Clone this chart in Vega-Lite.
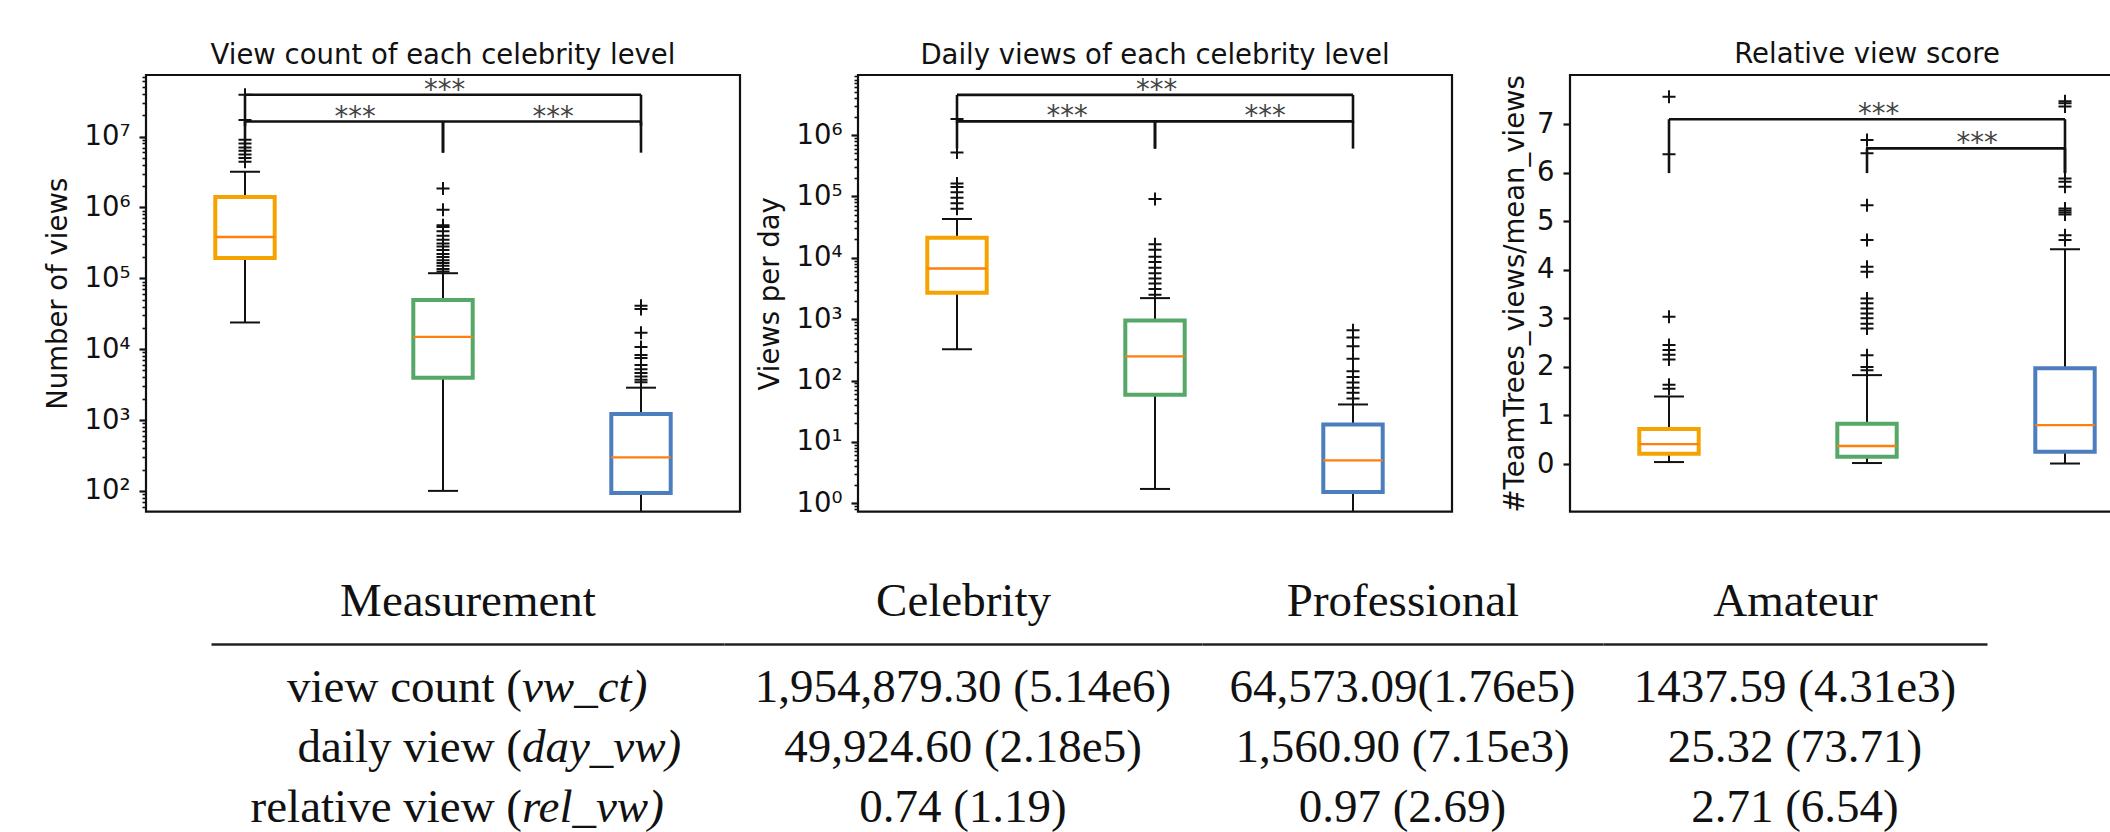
{
  "$schema": "https://vega.github.io/schema/vega-lite/v6.json",
  "background": "white",
  "padding": {"left": 42, "top": 39, "right": 0, "bottom": 0},
  "config": {
    "font": "DejaVu Sans",
    "view": {"stroke": "#111", "strokeWidth": 2.2},
    "axis": {"labelFont": "DejaVu Sans", "titleFont": "DejaVu Sans", "labelColor": "#111", "titleColor": "#111", "tickColor": "#111", "grid": false}
  },
  "datasets": {
    "box": [
      {"metric": "vc", "level": "Celebrity", "lo": 23800, "q1": 193000, "med": 382000, "q3": 1410000, "hi": 3190000},
      {"metric": "vc", "level": "Professional", "lo": 100, "q1": 3950, "med": 14900, "q3": 49400, "hi": 118000},
      {"metric": "vc", "level": "Amateur", "lo": 10, "q1": 93, "med": 297, "q3": 1220, "hi": 2860},
      {"metric": "dv", "level": "Celebrity", "lo": 323, "q1": 2690, "med": 6700, "q3": 21100, "hi": 43000},
      {"metric": "dv", "level": "Professional", "lo": 1.71, "q1": 58.6, "med": 247, "q3": 946, "hi": 2200},
      {"metric": "dv", "level": "Amateur", "lo": 0.3, "q1": 1.53, "med": 5.0, "q3": 19.2, "hi": 40.7},
      {"metric": "rv", "level": "Celebrity", "lo": 0.04, "q1": 0.21, "med": 0.41, "q3": 0.72, "hi": 1.39},
      {"metric": "rv", "level": "Professional", "lo": 0.02, "q1": 0.15, "med": 0.37, "q3": 0.83, "hi": 1.83},
      {"metric": "rv", "level": "Amateur", "lo": 0.01, "q1": 0.25, "med": 0.80, "q3": 1.97, "hi": 4.42}
    ],
    "out": [
      {"metric": "vc", "level": "Celebrity", "value": 4400000},
      {"metric": "vc", "level": "Celebrity", "value": 5000000},
      {"metric": "vc", "level": "Celebrity", "value": 5600000},
      {"metric": "vc", "level": "Celebrity", "value": 6300000},
      {"metric": "vc", "level": "Celebrity", "value": 7000000},
      {"metric": "vc", "level": "Celebrity", "value": 8000000},
      {"metric": "vc", "level": "Celebrity", "value": 9000000},
      {"metric": "vc", "level": "Celebrity", "value": 17200000},
      {"metric": "vc", "level": "Celebrity", "value": 39000000},
      {"metric": "vc", "level": "Professional", "value": 125000},
      {"metric": "vc", "level": "Professional", "value": 135000},
      {"metric": "vc", "level": "Professional", "value": 150000},
      {"metric": "vc", "level": "Professional", "value": 165000},
      {"metric": "vc", "level": "Professional", "value": 180000},
      {"metric": "vc", "level": "Professional", "value": 200000},
      {"metric": "vc", "level": "Professional", "value": 220000},
      {"metric": "vc", "level": "Professional", "value": 250000},
      {"metric": "vc", "level": "Professional", "value": 280000},
      {"metric": "vc", "level": "Professional", "value": 310000},
      {"metric": "vc", "level": "Professional", "value": 350000},
      {"metric": "vc", "level": "Professional", "value": 400000},
      {"metric": "vc", "level": "Professional", "value": 460000},
      {"metric": "vc", "level": "Professional", "value": 530000},
      {"metric": "vc", "level": "Professional", "value": 560000},
      {"metric": "vc", "level": "Professional", "value": 930000},
      {"metric": "vc", "level": "Professional", "value": 1850000},
      {"metric": "vc", "level": "Amateur", "value": 3400},
      {"metric": "vc", "level": "Amateur", "value": 3700},
      {"metric": "vc", "level": "Amateur", "value": 4100},
      {"metric": "vc", "level": "Amateur", "value": 4600},
      {"metric": "vc", "level": "Amateur", "value": 5200},
      {"metric": "vc", "level": "Amateur", "value": 6000},
      {"metric": "vc", "level": "Amateur", "value": 7500},
      {"metric": "vc", "level": "Amateur", "value": 8300},
      {"metric": "vc", "level": "Amateur", "value": 10700},
      {"metric": "vc", "level": "Amateur", "value": 17000},
      {"metric": "vc", "level": "Amateur", "value": 37000},
      {"metric": "vc", "level": "Amateur", "value": 41000},
      {"metric": "dv", "level": "Celebrity", "value": 63000},
      {"metric": "dv", "level": "Celebrity", "value": 77000},
      {"metric": "dv", "level": "Celebrity", "value": 95000},
      {"metric": "dv", "level": "Celebrity", "value": 117000},
      {"metric": "dv", "level": "Celebrity", "value": 142000},
      {"metric": "dv", "level": "Celebrity", "value": 162000},
      {"metric": "dv", "level": "Celebrity", "value": 520000},
      {"metric": "dv", "level": "Celebrity", "value": 1830000},
      {"metric": "dv", "level": "Professional", "value": 2500},
      {"metric": "dv", "level": "Professional", "value": 3100},
      {"metric": "dv", "level": "Professional", "value": 3800},
      {"metric": "dv", "level": "Professional", "value": 4600},
      {"metric": "dv", "level": "Professional", "value": 5600},
      {"metric": "dv", "level": "Professional", "value": 6900},
      {"metric": "dv", "level": "Professional", "value": 8500},
      {"metric": "dv", "level": "Professional", "value": 10400},
      {"metric": "dv", "level": "Professional", "value": 13500},
      {"metric": "dv", "level": "Professional", "value": 16600},
      {"metric": "dv", "level": "Professional", "value": 91000},
      {"metric": "dv", "level": "Amateur", "value": 51},
      {"metric": "dv", "level": "Amateur", "value": 63},
      {"metric": "dv", "level": "Amateur", "value": 76},
      {"metric": "dv", "level": "Amateur", "value": 93},
      {"metric": "dv", "level": "Amateur", "value": 114},
      {"metric": "dv", "level": "Amateur", "value": 141},
      {"metric": "dv", "level": "Amateur", "value": 226},
      {"metric": "dv", "level": "Amateur", "value": 361},
      {"metric": "dv", "level": "Amateur", "value": 502},
      {"metric": "dv", "level": "Amateur", "value": 660},
      {"metric": "rv", "level": "Celebrity", "value": 1.55},
      {"metric": "rv", "level": "Celebrity", "value": 1.63},
      {"metric": "rv", "level": "Celebrity", "value": 2.15},
      {"metric": "rv", "level": "Celebrity", "value": 2.25},
      {"metric": "rv", "level": "Celebrity", "value": 2.35},
      {"metric": "rv", "level": "Celebrity", "value": 2.45},
      {"metric": "rv", "level": "Celebrity", "value": 3.03},
      {"metric": "rv", "level": "Celebrity", "value": 6.38},
      {"metric": "rv", "level": "Celebrity", "value": 7.56},
      {"metric": "rv", "level": "Professional", "value": 1.93},
      {"metric": "rv", "level": "Professional", "value": 2.0},
      {"metric": "rv", "level": "Professional", "value": 2.24},
      {"metric": "rv", "level": "Professional", "value": 2.79},
      {"metric": "rv", "level": "Professional", "value": 2.89},
      {"metric": "rv", "level": "Professional", "value": 3.0},
      {"metric": "rv", "level": "Professional", "value": 3.1},
      {"metric": "rv", "level": "Professional", "value": 3.2},
      {"metric": "rv", "level": "Professional", "value": 3.31},
      {"metric": "rv", "level": "Professional", "value": 3.41},
      {"metric": "rv", "level": "Professional", "value": 3.96},
      {"metric": "rv", "level": "Professional", "value": 4.06},
      {"metric": "rv", "level": "Professional", "value": 4.61},
      {"metric": "rv", "level": "Professional", "value": 5.33},
      {"metric": "rv", "level": "Professional", "value": 6.40},
      {"metric": "rv", "level": "Professional", "value": 6.67},
      {"metric": "rv", "level": "Amateur", "value": 4.61},
      {"metric": "rv", "level": "Amateur", "value": 4.71},
      {"metric": "rv", "level": "Amateur", "value": 5.14},
      {"metric": "rv", "level": "Amateur", "value": 5.18},
      {"metric": "rv", "level": "Amateur", "value": 5.22},
      {"metric": "rv", "level": "Amateur", "value": 5.26},
      {"metric": "rv", "level": "Amateur", "value": 5.71},
      {"metric": "rv", "level": "Amateur", "value": 5.81},
      {"metric": "rv", "level": "Amateur", "value": 5.88},
      {"metric": "rv", "level": "Amateur", "value": 7.36},
      {"metric": "rv", "level": "Amateur", "value": 7.43},
      {"metric": "rv", "level": "Amateur", "value": 7.47}
    ],
    "sig": [
      {"metric": "vc", "span": "adj", "x1": "Celebrity", "x2": "Professional", "y": 16300000, "leg": 5930000, "label": "***"},
      {"metric": "vc", "span": "adj", "x1": "Professional", "x2": "Amateur", "y": 16300000, "leg": 5930000, "label": "***"},
      {"metric": "vc", "span": "wide", "x1": "Celebrity", "x2": "Amateur", "y": 39000000, "leg": 14200000, "label": "***"},
      {"metric": "dv", "span": "adj", "x1": "Celebrity", "x2": "Professional", "y": 1670000, "leg": 600000, "label": "***"},
      {"metric": "dv", "span": "adj", "x1": "Professional", "x2": "Amateur", "y": 1670000, "leg": 600000, "label": "***"},
      {"metric": "dv", "span": "wide", "x1": "Celebrity", "x2": "Amateur", "y": 4500000, "leg": 1600000, "label": "***"},
      {"metric": "rv", "span": "wide", "x1": "Celebrity", "x2": "Amateur", "y": 7.10, "leg": 5.99, "label": "***"},
      {"metric": "rv", "span": "adj", "x1": "Professional", "x2": "Amateur", "y": 6.50, "leg": 5.99, "label": "***"}
    ],
    "tbl": [
      {"measure": "view count", "col": "Celebrity", "text": "1,954,879.30 (5.14e6)"},
      {"measure": "view count", "col": "Professional", "text": "64,573.09(1.76e5)"},
      {"measure": "view count", "col": "Amateur", "text": "1437.59 (4.31e3)"},
      {"measure": "daily view", "col": "Celebrity", "text": "49,924.60 (2.18e5)"},
      {"measure": "daily view", "col": "Professional", "text": "1,560.90 (7.15e3)"},
      {"measure": "daily view", "col": "Amateur", "text": "25.32 (73.71)"},
      {"measure": "relative view", "col": "Celebrity", "text": "0.74 (1.19)"},
      {"measure": "relative view", "col": "Professional", "text": "0.97 (2.69)"},
      {"measure": "relative view", "col": "Amateur", "text": "2.71 (6.54)"}
    ],
    "meas": [
      {"measure": "view count", "prefix": "view count (", "sym": "vw_ct)"},
      {"measure": "daily view", "prefix": "daily view (", "sym": "day_vw)"},
      {"measure": "relative view", "prefix": "relative view (", "sym": "rel_vw)"}
    ]
  },
  "spacing": 59,
  "vconcat": [
    {
      "hconcat": [
        {
          "width": 594, "height": 436.6,
          "title": {"text": "View count of each celebrity level", "fontSize": 27.5, "fontWeight": "normal", "font": "DejaVu Sans", "color": "#111", "baseline": "alphabetic", "offset": -16, "anchor": "middle", "frame": "group"},
          "encoding": {"x": {"field": "level", "type": "nominal", "scale": {"type": "point", "padding": 0.5, "domain": ["Celebrity", "Professional", "Amateur"]}, "axis": {"title": null, "labelAngle": 0, "labelFontSize": 27.5, "labelPadding": 5, "tickSize": 7, "tickWidth": 2.2, "domain": false, "grid": false}}},
          "layer": [
            {"data": {"name": "box"}, "transform": [{"filter": "datum.metric === 'vc'"}], "mark": {"type": "rule", "color": "#111", "strokeWidth": 2, "clip": true}, "encoding": {"y": {"field": "lo", "type": "quantitative", "scale": {"type": "log", "domain": [51, 74000000], "nice": false}, "axis": null}, "y2": {"field": "q1"}}},
            {"data": {"name": "box"}, "transform": [{"filter": "datum.metric === 'vc'"}], "mark": {"type": "rule", "color": "#111", "strokeWidth": 2, "clip": true}, "encoding": {"y": {"field": "q3", "type": "quantitative", "scale": {"type": "log", "domain": [51, 74000000], "nice": false}, "axis": null}, "y2": {"field": "hi"}}},
            {"data": {"name": "box"}, "transform": [{"filter": "datum.metric === 'vc'"}], "mark": {"type": "tick", "orient": "horizontal", "size": 30, "thickness": 2, "color": "#111", "opacity": 1, "clip": true}, "encoding": {"y": {"field": "lo", "type": "quantitative", "scale": {"type": "log", "domain": [51, 74000000], "nice": false}, "axis": null}}},
            {"data": {"name": "box"}, "transform": [{"filter": "datum.metric === 'vc'"}], "mark": {"type": "tick", "orient": "horizontal", "size": 30, "thickness": 2, "color": "#111", "opacity": 1, "clip": true}, "encoding": {"y": {"field": "hi", "type": "quantitative", "scale": {"type": "log", "domain": [51, 74000000], "nice": false}, "axis": null}}},
            {"data": {"name": "box"}, "transform": [{"filter": "datum.metric === 'vc'"}], "mark": {"type": "bar", "width": 59.4, "fill": "white", "strokeWidth": 4, "clip": true}, "encoding": {
              "y": {"field": "q1", "type": "quantitative", "scale": {"type": "log", "domain": [51, 74000000], "nice": false}, "axis": {"title": "Number of views", "orient": "left", "values": [100, 1000, 10000, 100000, 1000000, 10000000], "labelExpr": "'10' + ['⁰','¹','²','³','⁴','⁵','⁶','⁷','⁸','⁹'][round(log(datum.value)/LN10)]", "labelFontSize": 27.5, "labelPadding": 9, "tickSize": 7, "tickWidth": 2.2, "domain": false, "grid": false, "titleFontSize": 27.5, "titleFontWeight": "normal", "titlePadding": 12, "minExtent": 62, "maxExtent": 62}},
              "y2": {"field": "q3"},
              "stroke": {"field": "level", "type": "nominal", "scale": {"domain": ["Celebrity", "Professional", "Amateur"], "range": ["#F5A300", "#55A868", "#4C7EBD"]}, "legend": null}}},
            {"data": {"name": "box"}, "transform": [{"filter": "datum.metric === 'vc'"}], "mark": {"type": "tick", "orient": "horizontal", "size": 59.4, "thickness": 2.4, "color": "#FF7F0E", "opacity": 1}, "encoding": {"y": {"field": "med", "type": "quantitative", "scale": {"type": "log", "domain": [51, 74000000], "nice": false}, "axis": null}}},
            {"data": {"name": "out"}, "transform": [{"filter": "datum.metric === 'vc'"}], "mark": {"type": "point", "shape": "M-1,0L1,0M0,-1L0,1", "size": 169, "filled": false, "stroke": "#111", "strokeWidth": 2, "opacity": 1}, "encoding": {"y": {"field": "value", "type": "quantitative", "scale": {"type": "log", "domain": [51, 74000000], "nice": false}, "axis": {"orient": "left", "title": null, "labels": false, "values": [60, 70, 80, 90, 200, 300, 400, 500, 600, 700, 800, 900, 2000, 3000, 4000, 5000, 6000, 7000, 8000, 9000, 20000, 30000, 40000, 50000, 60000, 70000, 80000, 90000, 200000, 300000, 400000, 500000, 600000, 700000, 800000, 900000, 2000000, 3000000, 4000000, 5000000, 6000000, 7000000, 8000000, 9000000, 20000000, 30000000, 40000000, 50000000, 60000000, 70000000], "tickSize": 4, "tickWidth": 1.6, "domain": false, "grid": false}}}},
            {"data": {"name": "sig"}, "transform": [{"filter": "datum.metric === 'vc'"}], "mark": {"type": "rule", "color": "#111", "strokeWidth": 2.6}, "encoding": {"x": {"field": "x1", "type": "nominal", "axis": null}, "x2": {"field": "x2"}, "y": {"field": "y", "type": "quantitative", "scale": {"type": "log", "domain": [51, 74000000], "nice": false}, "axis": null}}},
            {"data": {"name": "sig"}, "transform": [{"filter": "datum.metric === 'vc'"}], "mark": {"type": "rule", "color": "#111", "strokeWidth": 2.6}, "encoding": {"x": {"field": "x1", "type": "nominal", "axis": null}, "y": {"field": "y", "type": "quantitative", "scale": {"type": "log", "domain": [51, 74000000], "nice": false}, "axis": null}, "y2": {"field": "leg"}}},
            {"data": {"name": "sig"}, "transform": [{"filter": "datum.metric === 'vc'"}], "mark": {"type": "rule", "color": "#111", "strokeWidth": 2.6}, "encoding": {"x": {"field": "x2", "type": "nominal", "axis": null}, "y": {"field": "y", "type": "quantitative", "scale": {"type": "log", "domain": [51, 74000000], "nice": false}, "axis": null}, "y2": {"field": "leg"}}},
            {"data": {"name": "sig"}, "transform": [{"filter": "datum.metric === 'vc' && datum.span === 'adj'"}], "mark": {"type": "text", "fontSize": 27.5, "color": "#444", "baseline": "alphabetic", "dy": 4, "dx": 110}, "encoding": {"x": {"field": "x1", "type": "nominal", "axis": null}, "y": {"field": "y", "type": "quantitative", "scale": {"type": "log", "domain": [51, 74000000], "nice": false}, "axis": null}, "text": {"field": "label"}}},
            {"data": {"name": "sig"}, "transform": [{"filter": "datum.metric === 'vc' && datum.span === 'wide'"}], "mark": {"type": "text", "fontSize": 27.5, "color": "#444", "baseline": "alphabetic", "dy": 4, "dx": 199.5}, "encoding": {"x": {"field": "x1", "type": "nominal", "axis": null}, "y": {"field": "y", "type": "quantitative", "scale": {"type": "log", "domain": [51, 74000000], "nice": false}, "axis": null}, "text": {"field": "label"}}}
          ],
          "resolve": {"axis": {"y": "independent"}}
        },
        {
          "width": 594, "height": 436.6,
          "title": {"text": "Daily views of each celebrity level", "fontSize": 27.5, "fontWeight": "normal", "font": "DejaVu Sans", "color": "#111", "baseline": "alphabetic", "offset": -16, "anchor": "middle", "frame": "group"},
          "encoding": {"x": {"field": "level", "type": "nominal", "scale": {"type": "point", "padding": 0.5, "domain": ["Celebrity", "Professional", "Amateur"]}, "axis": {"title": null, "labelAngle": 0, "labelFontSize": 27.5, "labelPadding": 5, "tickSize": 7, "tickWidth": 2.2, "domain": false, "grid": false}}},
          "layer": [
            {"data": {"name": "box"}, "transform": [{"filter": "datum.metric === 'dv'"}], "mark": {"type": "rule", "color": "#111", "strokeWidth": 2, "clip": true}, "encoding": {"y": {"field": "lo", "type": "quantitative", "scale": {"type": "log", "domain": [0.731, 9500000], "nice": false}, "axis": null}, "y2": {"field": "q1"}}},
            {"data": {"name": "box"}, "transform": [{"filter": "datum.metric === 'dv'"}], "mark": {"type": "rule", "color": "#111", "strokeWidth": 2, "clip": true}, "encoding": {"y": {"field": "q3", "type": "quantitative", "scale": {"type": "log", "domain": [0.731, 9500000], "nice": false}, "axis": null}, "y2": {"field": "hi"}}},
            {"data": {"name": "box"}, "transform": [{"filter": "datum.metric === 'dv'"}], "mark": {"type": "tick", "orient": "horizontal", "size": 30, "thickness": 2, "color": "#111", "opacity": 1, "clip": true}, "encoding": {"y": {"field": "lo", "type": "quantitative", "scale": {"type": "log", "domain": [0.731, 9500000], "nice": false}, "axis": null}}},
            {"data": {"name": "box"}, "transform": [{"filter": "datum.metric === 'dv'"}], "mark": {"type": "tick", "orient": "horizontal", "size": 30, "thickness": 2, "color": "#111", "opacity": 1, "clip": true}, "encoding": {"y": {"field": "hi", "type": "quantitative", "scale": {"type": "log", "domain": [0.731, 9500000], "nice": false}, "axis": null}}},
            {"data": {"name": "box"}, "transform": [{"filter": "datum.metric === 'dv'"}], "mark": {"type": "bar", "width": 59.4, "fill": "white", "strokeWidth": 4, "clip": true}, "encoding": {
              "y": {"field": "q1", "type": "quantitative", "scale": {"type": "log", "domain": [0.731, 9500000], "nice": false}, "axis": {"title": "Views per day", "orient": "left", "values": [1, 10, 100, 1000, 10000, 100000, 1000000], "labelExpr": "'10' + ['⁰','¹','²','³','⁴','⁵','⁶','⁷','⁸','⁹'][round(log(datum.value)/LN10)]", "labelFontSize": 27.5, "labelPadding": 9, "tickSize": 7, "tickWidth": 2.2, "domain": false, "grid": false, "titleFontSize": 27.5, "titleFontWeight": "normal", "titlePadding": 12, "minExtent": 62, "maxExtent": 62}},
              "y2": {"field": "q3"},
              "stroke": {"field": "level", "type": "nominal", "scale": {"domain": ["Celebrity", "Professional", "Amateur"], "range": ["#F5A300", "#55A868", "#4C7EBD"]}, "legend": null}}},
            {"data": {"name": "box"}, "transform": [{"filter": "datum.metric === 'dv'"}], "mark": {"type": "tick", "orient": "horizontal", "size": 59.4, "thickness": 2.4, "color": "#FF7F0E", "opacity": 1}, "encoding": {"y": {"field": "med", "type": "quantitative", "scale": {"type": "log", "domain": [0.731, 9500000], "nice": false}, "axis": null}}},
            {"data": {"name": "out"}, "transform": [{"filter": "datum.metric === 'dv'"}], "mark": {"type": "point", "shape": "M-1,0L1,0M0,-1L0,1", "size": 169, "filled": false, "stroke": "#111", "strokeWidth": 2, "opacity": 1}, "encoding": {"y": {"field": "value", "type": "quantitative", "scale": {"type": "log", "domain": [0.731, 9500000], "nice": false}, "axis": {"orient": "left", "title": null, "labels": false, "values": [0.8, 0.9, 2, 3, 4, 5, 6, 7, 8, 9, 20, 30, 40, 50, 60, 70, 80, 90, 200, 300, 400, 500, 600, 700, 800, 900, 2000, 3000, 4000, 5000, 6000, 7000, 8000, 9000, 20000, 30000, 40000, 50000, 60000, 70000, 80000, 90000, 200000, 300000, 400000, 500000, 600000, 700000, 800000, 900000, 2000000, 3000000, 4000000, 5000000, 6000000, 7000000, 8000000, 9000000], "tickSize": 4, "tickWidth": 1.6, "domain": false, "grid": false}}}},
            {"data": {"name": "sig"}, "transform": [{"filter": "datum.metric === 'dv'"}], "mark": {"type": "rule", "color": "#111", "strokeWidth": 2.6}, "encoding": {"x": {"field": "x1", "type": "nominal", "axis": null}, "x2": {"field": "x2"}, "y": {"field": "y", "type": "quantitative", "scale": {"type": "log", "domain": [0.731, 9500000], "nice": false}, "axis": null}}},
            {"data": {"name": "sig"}, "transform": [{"filter": "datum.metric === 'dv'"}], "mark": {"type": "rule", "color": "#111", "strokeWidth": 2.6}, "encoding": {"x": {"field": "x1", "type": "nominal", "axis": null}, "y": {"field": "y", "type": "quantitative", "scale": {"type": "log", "domain": [0.731, 9500000], "nice": false}, "axis": null}, "y2": {"field": "leg"}}},
            {"data": {"name": "sig"}, "transform": [{"filter": "datum.metric === 'dv'"}], "mark": {"type": "rule", "color": "#111", "strokeWidth": 2.6}, "encoding": {"x": {"field": "x2", "type": "nominal", "axis": null}, "y": {"field": "y", "type": "quantitative", "scale": {"type": "log", "domain": [0.731, 9500000], "nice": false}, "axis": null}, "y2": {"field": "leg"}}},
            {"data": {"name": "sig"}, "transform": [{"filter": "datum.metric === 'dv' && datum.span === 'adj'"}], "mark": {"type": "text", "fontSize": 27.5, "color": "#444", "baseline": "alphabetic", "dy": 4, "dx": 110}, "encoding": {"x": {"field": "x1", "type": "nominal", "axis": null}, "y": {"field": "y", "type": "quantitative", "scale": {"type": "log", "domain": [0.731, 9500000], "nice": false}, "axis": null}, "text": {"field": "label"}}},
            {"data": {"name": "sig"}, "transform": [{"filter": "datum.metric === 'dv' && datum.span === 'wide'"}], "mark": {"type": "text", "fontSize": 27.5, "color": "#444", "baseline": "alphabetic", "dy": 4, "dx": 199.5}, "encoding": {"x": {"field": "x1", "type": "nominal", "axis": null}, "y": {"field": "y", "type": "quantitative", "scale": {"type": "log", "domain": [0.731, 9500000], "nice": false}, "axis": null}, "text": {"field": "label"}}}
          ],
          "resolve": {"axis": {"y": "independent"}}
        },
        {
          "width": 594, "height": 436.6,
          "title": {"text": "Relative view score", "fontSize": 27.5, "fontWeight": "normal", "font": "DejaVu Sans", "color": "#111", "baseline": "alphabetic", "offset": -16, "anchor": "middle", "frame": "group"},
          "encoding": {"x": {"field": "level", "type": "nominal", "scale": {"type": "point", "padding": 0.5, "domain": ["Celebrity", "Professional", "Amateur"]}, "axis": {"title": null, "labelAngle": 0, "labelFontSize": 27.5, "labelPadding": 5, "tickSize": 7, "tickWidth": 2.2, "domain": false, "grid": false}}},
          "layer": [
            {"data": {"name": "box"}, "transform": [{"filter": "datum.metric === 'rv'"}], "mark": {"type": "rule", "color": "#111", "strokeWidth": 2, "clip": true}, "encoding": {"y": {"field": "lo", "type": "quantitative", "scale": {"type": "linear", "domain": [-0.98, 8.01], "nice": false, "zero": false}, "axis": null}, "y2": {"field": "q1"}}},
            {"data": {"name": "box"}, "transform": [{"filter": "datum.metric === 'rv'"}], "mark": {"type": "rule", "color": "#111", "strokeWidth": 2, "clip": true}, "encoding": {"y": {"field": "q3", "type": "quantitative", "scale": {"type": "linear", "domain": [-0.98, 8.01], "nice": false, "zero": false}, "axis": null}, "y2": {"field": "hi"}}},
            {"data": {"name": "box"}, "transform": [{"filter": "datum.metric === 'rv'"}], "mark": {"type": "tick", "orient": "horizontal", "size": 30, "thickness": 2, "color": "#111", "opacity": 1, "clip": true}, "encoding": {"y": {"field": "lo", "type": "quantitative", "scale": {"type": "linear", "domain": [-0.98, 8.01], "nice": false, "zero": false}, "axis": null}}},
            {"data": {"name": "box"}, "transform": [{"filter": "datum.metric === 'rv'"}], "mark": {"type": "tick", "orient": "horizontal", "size": 30, "thickness": 2, "color": "#111", "opacity": 1, "clip": true}, "encoding": {"y": {"field": "hi", "type": "quantitative", "scale": {"type": "linear", "domain": [-0.98, 8.01], "nice": false, "zero": false}, "axis": null}}},
            {"data": {"name": "box"}, "transform": [{"filter": "datum.metric === 'rv'"}], "mark": {"type": "bar", "width": 59.4, "fill": "white", "strokeWidth": 4, "clip": true}, "encoding": {
              "y": {"field": "q1", "type": "quantitative", "scale": {"type": "linear", "domain": [-0.98, 8.01], "nice": false, "zero": false}, "axis": {"title": "#TeamTrees_views/mean_views", "orient": "left", "values": [0, 1, 2, 3, 4, 5, 6, 7], "format": "d", "labelFontSize": 27.5, "labelPadding": 9, "tickSize": 7, "tickWidth": 2.2, "domain": false, "grid": false, "titleFontSize": 27.5, "titleFontWeight": "normal", "titlePadding": 6.5, "minExtent": 34, "maxExtent": 34}},
              "y2": {"field": "q3"},
              "stroke": {"field": "level", "type": "nominal", "scale": {"domain": ["Celebrity", "Professional", "Amateur"], "range": ["#F5A300", "#55A868", "#4C7EBD"]}, "legend": null}}},
            {"data": {"name": "box"}, "transform": [{"filter": "datum.metric === 'rv'"}], "mark": {"type": "tick", "orient": "horizontal", "size": 59.4, "thickness": 2.4, "color": "#FF7F0E", "opacity": 1}, "encoding": {"y": {"field": "med", "type": "quantitative", "scale": {"type": "linear", "domain": [-0.98, 8.01], "nice": false, "zero": false}, "axis": null}}},
            {"data": {"name": "out"}, "transform": [{"filter": "datum.metric === 'rv'"}], "mark": {"type": "point", "shape": "M-1,0L1,0M0,-1L0,1", "size": 169, "filled": false, "stroke": "#111", "strokeWidth": 2, "opacity": 1}, "encoding": {"y": {"field": "value", "type": "quantitative", "scale": {"type": "linear", "domain": [-0.98, 8.01], "nice": false, "zero": false}, "axis": null}}},
            {"data": {"name": "sig"}, "transform": [{"filter": "datum.metric === 'rv'"}], "mark": {"type": "rule", "color": "#111", "strokeWidth": 2.6}, "encoding": {"x": {"field": "x1", "type": "nominal", "axis": null}, "x2": {"field": "x2"}, "y": {"field": "y", "type": "quantitative", "scale": {"type": "linear", "domain": [-0.98, 8.01], "nice": false, "zero": false}, "axis": null}}},
            {"data": {"name": "sig"}, "transform": [{"filter": "datum.metric === 'rv'"}], "mark": {"type": "rule", "color": "#111", "strokeWidth": 2.6}, "encoding": {"x": {"field": "x1", "type": "nominal", "axis": null}, "y": {"field": "y", "type": "quantitative", "scale": {"type": "linear", "domain": [-0.98, 8.01], "nice": false, "zero": false}, "axis": null}, "y2": {"field": "leg"}}},
            {"data": {"name": "sig"}, "transform": [{"filter": "datum.metric === 'rv'"}], "mark": {"type": "rule", "color": "#111", "strokeWidth": 2.6}, "encoding": {"x": {"field": "x2", "type": "nominal", "axis": null}, "y": {"field": "y", "type": "quantitative", "scale": {"type": "linear", "domain": [-0.98, 8.01], "nice": false, "zero": false}, "axis": null}, "y2": {"field": "leg"}}},
            {"data": {"name": "sig"}, "transform": [{"filter": "datum.metric === 'rv' && datum.span === 'adj'"}], "mark": {"type": "text", "fontSize": 27.5, "color": "#444", "baseline": "alphabetic", "dy": 4, "dx": 110}, "encoding": {"x": {"field": "x1", "type": "nominal", "axis": null}, "y": {"field": "y", "type": "quantitative", "scale": {"type": "linear", "domain": [-0.98, 8.01], "nice": false, "zero": false}, "axis": null}, "text": {"field": "label"}}},
            {"data": {"name": "sig"}, "transform": [{"filter": "datum.metric === 'rv' && datum.span === 'wide'"}], "mark": {"type": "text", "fontSize": 27.5, "color": "#444", "baseline": "alphabetic", "dy": 4, "dx": 209.5}, "encoding": {"x": {"field": "x1", "type": "nominal", "axis": null}, "y": {"field": "y", "type": "quantitative", "scale": {"type": "linear", "domain": [-0.98, 8.01], "nice": false, "zero": false}, "axis": null}, "text": {"field": "label"}}}
          ],
          "resolve": {"axis": {"y": "independent"}}
        }
      ],
      "spacing": 118,
      "bounds": "flush"
    },
    {
      "hconcat": [
        {"width": 65, "height": 10, "view": {"stroke": null}, "data": {"values": [{"a": 1}]}, "mark": {"type": "point", "opacity": 0}, "encoding": {}},
        {
          "width": 513, "height": 236, "view": {"stroke": null},
          "data": {"name": "meas"},
          "encoding": {
            "x": {"datum": "Measurement", "type": "nominal", "scale": {"type": "point", "padding": 0.5}, "axis": {"orient": "top", "title": null, "ticks": false, "tickSize": 0, "labelFont": "Liberation Serif", "labelFontSize": 47, "labelColor": "#111", "labelPadding": 29, "labelBaseline": "alphabetic", "labelAngle": 0, "labelLimit": 1000, "domain": true, "domainColor": "#222", "domainWidth": 2.5, "grid": false}},
            "y": {"field": "measure", "type": "nominal", "scale": {"type": "point", "padding": 0.967, "domain": ["view count", "daily view", "relative view"]}, "axis": null}
          },
          "layer": [
            {"mark": {"type": "text", "font": "Liberation Serif", "fontSize": 47, "align": "right", "baseline": "alphabetic", "dx": 54.5, "color": "#111"}, "encoding": {"text": {"field": "prefix"}}},
            {"mark": {"type": "text", "font": "Liberation Serif", "fontSize": 47, "fontStyle": "italic", "align": "left", "baseline": "alphabetic", "dx": 54.5, "color": "#111"}, "encoding": {"text": {"field": "sym"}}}
          ]
        },
        {
          "width": 478, "height": 236, "view": {"stroke": null},
          "data": {"name": "tbl"},
          "transform": [{"filter": "datum.col === 'Celebrity'"}],
          "mark": {"type": "text", "font": "Liberation Serif", "fontSize": 47, "align": "center", "baseline": "alphabetic", "color": "#111"},
          "encoding": {
            "x": {"datum": "Celebrity", "type": "nominal", "scale": {"type": "point", "padding": 0.5}, "axis": {"orient": "top", "title": null, "ticks": false, "tickSize": 0, "labelFont": "Liberation Serif", "labelFontSize": 47, "labelColor": "#111", "labelPadding": 29, "labelBaseline": "alphabetic", "labelAngle": 0, "labelLimit": 1000, "domain": true, "domainColor": "#222", "domainWidth": 2.5, "grid": false}},
            "y": {"field": "measure", "type": "nominal", "scale": {"type": "point", "padding": 0.967, "domain": ["view count", "daily view", "relative view"]}, "axis": null},
            "text": {"field": "text"}
          }
        },
        {
          "width": 401, "height": 236, "view": {"stroke": null},
          "data": {"name": "tbl"},
          "transform": [{"filter": "datum.col === 'Professional'"}],
          "mark": {"type": "text", "font": "Liberation Serif", "fontSize": 47, "align": "center", "baseline": "alphabetic", "color": "#111"},
          "encoding": {
            "x": {"datum": "Professional", "type": "nominal", "scale": {"type": "point", "padding": 0.5}, "axis": {"orient": "top", "title": null, "ticks": false, "tickSize": 0, "labelFont": "Liberation Serif", "labelFontSize": 47, "labelColor": "#111", "labelPadding": 29, "labelBaseline": "alphabetic", "labelAngle": 0, "labelLimit": 1000, "domain": true, "domainColor": "#222", "domainWidth": 2.5, "grid": false}},
            "y": {"field": "measure", "type": "nominal", "scale": {"type": "point", "padding": 0.967, "domain": ["view count", "daily view", "relative view"]}, "axis": null},
            "text": {"field": "text"}
          }
        },
        {
          "width": 384, "height": 236, "view": {"stroke": null},
          "data": {"name": "tbl"},
          "transform": [{"filter": "datum.col === 'Amateur'"}],
          "mark": {"type": "text", "font": "Liberation Serif", "fontSize": 47, "align": "center", "baseline": "alphabetic", "color": "#111"},
          "encoding": {
            "x": {"datum": "Amateur", "type": "nominal", "scale": {"type": "point", "padding": 0.5}, "axis": {"orient": "top", "title": null, "ticks": false, "tickSize": 0, "labelFont": "Liberation Serif", "labelFontSize": 47, "labelColor": "#111", "labelPadding": 29, "labelBaseline": "alphabetic", "labelAngle": 0, "labelLimit": 1000, "domain": true, "domainColor": "#222", "domainWidth": 2.5, "grid": false}},
            "y": {"field": "measure", "type": "nominal", "scale": {"type": "point", "padding": 0.967, "domain": ["view count", "daily view", "relative view"]}, "axis": null},
            "text": {"field": "text"}
          }
        }
      ],
      "spacing": 0
    }
  ]
}
